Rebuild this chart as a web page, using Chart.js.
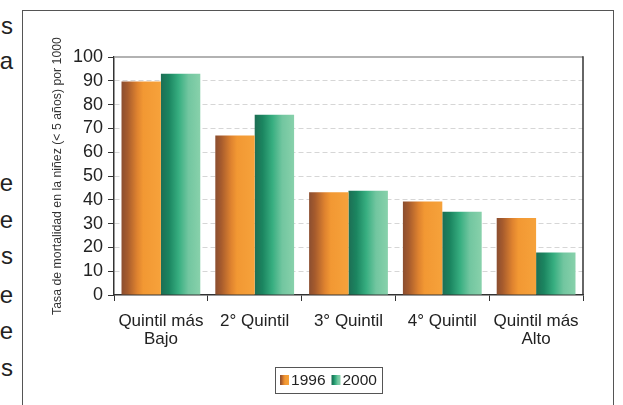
<!DOCTYPE html>
<html>
<head>
<meta charset="utf-8">
<script src="https://cdn.jsdelivr.net/npm/chart.js@4.4.1/dist/chart.umd.min.js"></script>
<style>
  html, body { margin: 0; padding: 0; background: #fff; width: 623px; height: 405px; overflow: hidden; position: relative; font-family: "Liberation Sans", Arial, sans-serif; }
  #frame { position: absolute; left: 22px; top: 10px; width: 590px; height: 400px; border: 1px solid #555; border-bottom: none; }
  #wrap { position: absolute; left: 24px; top: 11px; width: 588px; height: 394px; }
  .side { position: absolute; left: -30px; width: 43px; text-align: right; font-size: 24px; line-height: 24px; color: #222; }
</style>
</head>
<body>
<div id="frame"></div>
<div id="wrap"><canvas id="chart" width="588" height="394"></canvas></div>
<script>
// values
const categories = [['Quintil más', 'Bajo'], '2° Quintil', '3° Quintil', '4° Quintil', ['Quintil más', 'Alto']];
const series = ['1996', '2000'];
const values1996 = [89.7, 67, 43.2, 39.3, 32.4];
const values2000 = [93, 75.7, 43.8, 35, 17.9];
const yTitle = 'Tasa de mortalidad en la niñez (< 5 años) por 1000';

// bits of the page text cut off at the left edge
const sideLetters = ['s', 'a', 'e', 'e', 's', 'e', 'e', 's'];
const sideY = [28, 63, 185, 222, 258, 297, 333, 370];
sideLetters.forEach(function(t, i) {
  var s = document.createElement('div');
  s.className = 'side';
  s.textContent = t;
  s.style.top = (sideY[i] - 14) + 'px';
  document.body.appendChild(s);
});

const stops = [
  [[0, '#8b4e30'], [0.15, '#a65b2d'], [0.4, '#df832f'], [0.55, '#f29833'], [1, '#f6a23b']],
  [[0, '#1d6e54'], [0.2, '#1b8560'], [0.45, '#37ae80'], [0.7, '#72c6a0'], [1, '#88d1ab']]
];

function makeGrad(c, x0, x1, st) {
  var g = c.createLinearGradient(x0, 0, x1, 0);
  st.forEach(function(s) { g.addColorStop(s[0], s[1]); });
  return g;
}

const gradientBars = {
  id: 'gradientBars',
  beforeDatasetsDraw: function(chart) {
    chart.data.datasets.forEach(function(d, i) {
      chart.getDatasetMeta(i).data.forEach(function(bar) {
        var x0 = bar.x - bar.width / 2;
        bar.options = Object.assign({}, bar.options, {
          backgroundColor: makeGrad(chart.ctx, x0, x0 + bar.width, stops[i])
        });
      });
    });
  }
};

const frameAndLegend = {
  id: 'frameAndLegend',
  afterDraw: function(chart) {
    var c = chart.ctx, a = chart.chartArea;
    c.save();
    // top and right edge of the plot box
    c.lineWidth = 1.5;
    c.strokeStyle = '#999';
    c.beginPath();
    c.moveTo(a.left, a.top);
    c.lineTo(a.right, a.top);
    c.stroke();
    c.strokeStyle = '#333';
    c.beginPath();
    c.moveTo(a.right, a.top - 0.75);
    c.lineTo(a.right, a.bottom);
    c.stroke();

    // legend
    c.font = '15.5px "Liberation Sans", Arial, sans-serif';
    c.textBaseline = 'middle';
    var box = 9, gap = 2, itemGap = 6, pad = 5;
    var widths = chart.data.datasets.map(function(d) { return c.measureText(d.label).width; });
    var total = pad * 2 + widths.reduce(function(s, w) { return s + box + gap + w; }, 0) + itemGap;
    var cx = 304.5, top = 356, h = 26, mid = top + h / 2;
    var x = cx - total / 2;
    c.lineWidth = 1;
    c.strokeStyle = '#555';
    c.strokeRect(Math.round(x) + 0.5, top + 0.5, Math.round(total), h);
    x += pad;
    chart.data.datasets.forEach(function(d, i) {
      c.fillStyle = makeGrad(c, x, x + box, stops[i]);
      c.fillRect(x, mid - 5, box, 10);
      x += box + gap;
      c.fillStyle = '#222';
      c.fillText(d.label, x, mid + 1);
      x += widths[i] + itemGap;
    });
    c.restore();
  }
};

new Chart(document.getElementById('chart').getContext('2d'), {
  type: 'bar',
  data: {
    labels: categories,
    datasets: [
      { label: series[0], data: values1996, backgroundColor: '#f29833', borderWidth: 0 },
      { label: series[1], data: values2000, backgroundColor: '#37ae80', borderWidth: 0 }
    ]
  },
  options: {
    responsive: false,
    animation: false,
    categoryPercentage: 0.84,
    barPercentage: 1,
    layout: { padding: { left: 0, right: 29, top: 46, bottom: 50 } },
    plugins: {
      legend: { display: false },
      tooltip: { enabled: false }
    },
    scales: {
      x: {
        grid: { drawOnChartArea: false, tickLength: 6, tickColor: '#333', tickWidth: 1 },
        border: { color: '#333', width: 1.5 },
        ticks: { color: '#222', padding: 11, font: { family: '"Liberation Sans", Arial, sans-serif', size: 17, lineHeight: 1.06 } },
        afterFit: function(s) { s.height = 60; }
      },
      y: {
        min: 0,
        max: 100,
        ticks: { stepSize: 10, autoSkip: false, color: '#222', padding: 5, font: { family: '"Liberation Sans", Arial, sans-serif', size: 18 } },
        grid: {
          color: function(c) { return c.tick && (c.tick.value === 0 || c.tick.value === 100) ? 'rgba(0,0,0,0)' : '#d6d6d6'; },
          tickColor: '#333',
          tickLength: 6,
          lineWidth: 1
        },
        border: { color: '#333', width: 1.5, dash: [5, 3] },
        title: {
          display: true,
          text: yTitle,
          color: '#333',
          padding: { top: 26, bottom: 0 },
          font: { family: '"Liberation Sans", Arial, sans-serif', size: 12.3 }
        },
        afterFit: function(s) { s.width = 90; }
      }
    }
  },
  plugins: [gradientBars, frameAndLegend]
});
</script>
</body>
</html>
